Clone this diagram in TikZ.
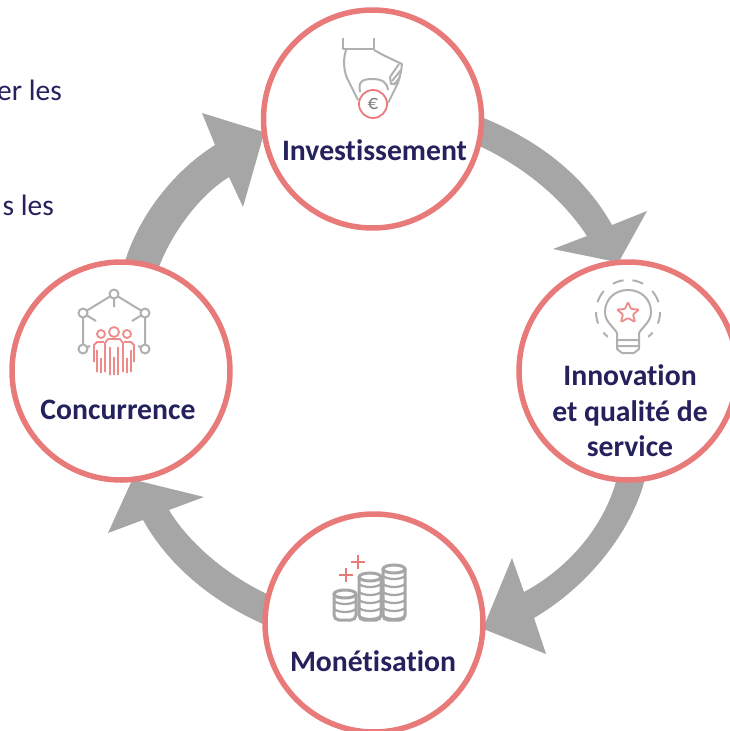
\documentclass[tikz,border=0pt]{standalone}
\usepackage{fontspec}
\setmainfont[Ligatures=NoCommon]{Carlito}
\definecolor{ring}{HTML}{E97A7A}
\definecolor{navy}{HTML}{24215C}
\definecolor{band}{HTML}{A6A6A6}
\definecolor{icong}{HTML}{B0B0B0}
\definecolor{iconr}{HTML}{EE8A8A}
\tikzset{
  stage/.style={circle,draw=ring,line width=5.5pt,fill=white,minimum size=218pt,inner sep=0pt,outer sep=0pt},
  ghost/.style={circle,minimum size=218pt,inner sep=0pt,outer sep=0pt},
  stagelabel/.style={text=navy,font=\fontsize{29.7}{35.5}\selectfont\bfseries,align=center,inner sep=0pt},
  sidetext/.style={text=navy,font=\fontsize{29.5}{32}\selectfont,anchor=base east,inner sep=0pt},
  flow/.style={fill=band,draw=none},
  gline/.style={draw=icong,line width=2pt,line join=round},
  rline/.style={draw=iconr,line width=1.8pt,line join=round},
  coinline/.style={draw=band,line width=3pt},
}
\begin{document}
\begin{tikzpicture}[x=1pt,y=-1pt]
\useasboundingbox (0,0) rectangle (730,731);
\fill[white] (0,0) rectangle (730,731);
\node[sidetext] (s1) at (62,100) {er les};
\node[sidetext] (s2) at (54,215) {s les};
\node[ghost] (inv) at (372.5,119) {};
\node[ghost] (ino) at (628,371) {};
\node[ghost] (mon) at (374,623) {};
\node[ghost] (con) at (121,371) {};
% block arrows
\fill[flow] (inv.1.5) .. controls (528,136) and (580,168) .. (612,225) -- (647,211) -- (ino.95) -- (553,249) -- (587,236)
   .. controls (560,195) and (520,165) .. (inv.-14) -- cycle;
\fill[flow] (ino.-81) .. controls (632,530) and (590,585) .. (534,618) -- (546,654) -- (mon.-3) -- (512,558) -- (524,592)
   .. controls (565,570) and (603,530) .. (ino.-96) -- cycle;
\fill[flow] (mon.181) .. controls (215,603) and (170,568) .. (143,520) -- (108,533) -- (con.-84) -- (204,497) -- (169,510)
   .. controls (190,545) and (230,577) .. (mon.165) -- cycle;
\fill[flow] (con.88) .. controls (138,218) and (172,172) .. (215,145) -- (202,113) -- (inv.187) -- (243,207) -- (229,177)
   .. controls (200,195) and (172,232) .. (con.70) -- cycle;
% rings
\node[stage] at (inv) {};
\node[stage] at (ino) {};
\node[stage] at (mon) {};
\node[stage] at (con) {};
% labels
\node[stagelabel] (l1) at (374.5,150) {Investissement};
\node[stagelabel] (l2) at (630,411) {Innovation\\et qualité de\\service};
\node[stagelabel] (l3) at (373,661) {Monétisation};
\node[stagelabel] (l4) at (118,410) {Concurrence};
% hand icon
\draw[gline] (343,38) -- (343,49) -- (374,49) -- (374,38);
\draw[gline] (346,50) .. controls (342,62) and (345,75) .. (348,80) -- (358,100);
\draw[gline] (374,50) -- (383,55) -- (402,64) -- (401,72) -- (398,83) -- (388,103);
\draw[gline] (399,64) -- (390,77) (401,70) -- (392,81) (400,77) -- (394,85);
\draw[gline] (390,77) -- (391,84) -- (398,83);
\draw[gline] (360,92) .. controls (358,82) and (362,79) .. (372,79) .. controls (382,79) and (387,82) .. (388,90);
\node[circle,draw=ring,line width=1.8pt,fill=white,minimum size=28pt,inner sep=0pt,text=gray,font=\fontsize{21}{21}\selectfont] (coin) at (373,104) {€};
% bulb icon
\draw[gline] (617,340) -- (617,333) .. controls (613,326) and (605,322) .. (605,312)
   .. controls (605,299) and (615,290) .. (628,290) .. controls (641,290) and (651,299) .. (651,312)
   .. controls (651,322) and (643,326) .. (639,333) -- (639,340);
\draw[gline] (617,340) -- (639,340) -- (639,349) -- (634,353) -- (622,353) -- (617,349) -- cycle (617,346) -- (639,346);
\foreach \p/\q in {98/118,62/82,18/41,-21/0,-51/-40,139/162,180/201,220/231}
  \draw[gline,shift={(628,312)}] plot[domain=\p:\q,samples=8] ({32*cos(\x)},{-32*sin(\x)});
\draw[rline,rounded corners=1pt,shift={(628,313)}]
  (0,-11) -- (3,-4) -- (11,-3.5) -- (5,1.5) -- (7,9) -- (0,5) -- (-7,9) -- (-5,1.5) -- (-11,-3.5) -- (-3,-4) -- cycle;
% coins icon
\foreach \cx/\top in {345/594,370/577,394/569}{
  \draw[coinline,fill=white,rounded corners=5pt] (\cx-11,\top) -- (\cx-11,620) -- (\cx+11,620) -- (\cx+11,\top);
  \draw[coinline] (\cx,\top) ellipse[x radius=11,y radius=4];
  \pgfmathsetmacro{\n}{int((620-\top-3)/8)}
  \foreach \k in {1,...,\n}
    \draw[coinline,line width=2.2pt] (\cx-11,\top+8*\k-1) .. controls (\cx-6,\top+8*\k+3) and (\cx+6,\top+8*\k+3) .. (\cx+11,\top+8*\k-1);
}
\draw[draw=ring,line width=2.2pt] (351,562) -- (365,562) (358,555) -- (358,569) (339,575) -- (353,575) (346,568) -- (346,582);
% concurrence icon
\draw[gline] (114,294) -- (83,313) -- (83,349) (114,294) -- (145,313) -- (145,349) (114,294) -- (114,307)
  (83,313) -- (96,321) (145,313) -- (132,321) (83,349) -- (90,346) (145,349) -- (138,346);
\foreach \nx/\ny in {114/294,83/313,145/313,83/349,145/349}
  \draw[gline,fill=white] (\nx,\ny) circle[radius=4.5];
\draw[rline] (101,334) circle[radius=4] (127,334) circle[radius=4] (114,332) circle[radius=5];
\draw[rline] (94,362) -- (94,345) -- (97,342) -- (104,342) (97,350) -- (97,372) (101,358) -- (101,373) (105,350) -- (105,372);
\draw[rline] (124,342) -- (131,342) -- (134,345) -- (134,362) (131,350) -- (131,372) (127,358) -- (127,373) (123,350) -- (123,372);
\draw[rline] (105,360) -- (105,343) -- (108,339) -- (120,339) -- (123,343) -- (123,360) (110,347) -- (110,375) (114,357) -- (114,375) (118,347) -- (118,375);
\end{tikzpicture}
\end{document}
